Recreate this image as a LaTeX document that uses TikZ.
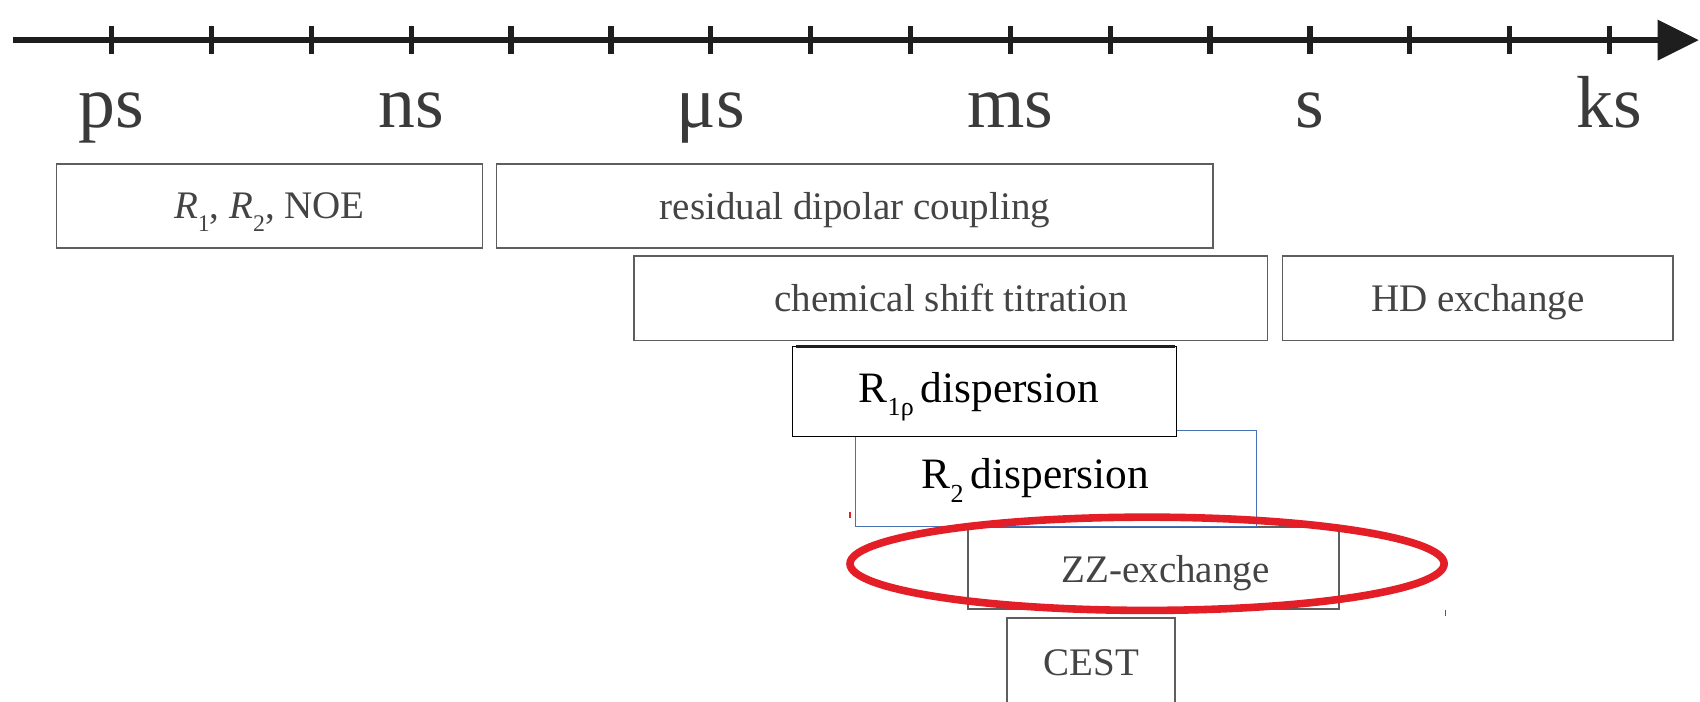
\documentclass[tikz,border=0pt]{standalone}
\usepackage{fontspec}
\setmainfont{Liberation Serif}
\usetikzlibrary{arrows.meta}

\definecolor{axisink}{HTML}{1E1E1E}
\definecolor{labelink}{HTML}{3A3A3A}
\definecolor{boxline}{HTML}{5E5E5E}
\definecolor{boxtext}{HTML}{444444}
\definecolor{blueline}{HTML}{4A70B5}
\definecolor{ringred}{HTML}{E31E26}

% lowered, smaller subscript for the relaxation symbols
\newcommand\lowsub[2]{\raisebox{-0.32em}{\fontsize{#1}{#1}\selectfont #2}}

\tikzset{
  axisline/.style={line width=3pt, draw=axisink,
    -{Triangle[length=19pt,width=18pt]}},
  tickmark/.style={line width=2.4pt, draw=axisink},
  scalelabel/.style={text=labelink, anchor=base,
    font=\fontsize{34}{40}\selectfont, inner sep=0pt},
  methodbox/.style={draw=boxline, line width=0.8pt, fill=white,
    text=boxtext, inner sep=0pt, text depth=0pt,
    font=\fontsize{18}{22}\selectfont},
  blackbox/.style={draw=black, line width=0.5pt, fill=white, inner sep=0pt},
  bluebox/.style={draw=blueline, line width=0.5pt, fill=white, inner sep=0pt},
  boxlabel/.style={inner sep=0pt, text depth=0pt},
  ring/.style={draw=ringred, line width=3.5pt},
  redmark/.style={draw=ringred, line width=0.5pt}
}

\begin{document}
\begin{tikzpicture}[x=0.5pt,y=-0.5pt]
  \clip (0,0) rectangle (1568,647);
  \fill[white] (0,0) rectangle (1568,647);

  % time axis
  \coordinate (axstart) at (12,37);
  \coordinate (axend) at (1567,37);
  \draw[axisline] (axstart) -- (axend);
  \foreach \k in {0,...,15}
    \draw[tickmark] ({103+92.1*\k},24) -- ({103+92.1*\k},50);

  % decade labels
  \node[scalelabel] (lps) at (103,118) {ps};
  \node[scalelabel] (lns) at ({103+92.1*3},118) {ns};
  \node[scalelabel] (lus) at ({103+92.1*6},118) {μs};
  \node[scalelabel] (lms) at ({103+92.1*9},118) {ms};
  \node[scalelabel] (lsec) at ({103+92.1*12},118) {s};
  \node[scalelabel] (lks) at ({103+92.1*15},118) {ks};

  % methods and their time windows
  \node[methodbox, minimum width=196.5pt, minimum height=39pt] (noe)
    at (248.5,190) {\textit{R}\lowsub{11}{1}, \textit{R}\lowsub{11}{2}, NOE};
  \node[methodbox, minimum width=330.5pt, minimum height=39pt] (rdc)
    at (788.5,190) {residual dipolar coupling};
  \node[methodbox, minimum width=292pt, minimum height=39pt] (csp)
    at (877,275) {chemical shift titration};
  \node[methodbox, minimum width=180pt, minimum height=39pt] (hdx)
    at (1363,275) {HD exchange};

  \node[methodbox, minimum width=171pt, minimum height=38pt] (zzbox)
    at (1064,524) {};
  \node[boxlabel, text=boxtext, font=\fontsize{18}{22}\selectfont] (zztext)
    at (1075,525) {ZZ-exchange};
  \node[methodbox, minimum width=77.5pt, minimum height=41pt] (cest)
    at (1006.5,611) {CEST};

  \node[bluebox, minimum width=185pt, minimum height=44.5pt] (r2box)
    at (974,441.5) {};
  \node[boxlabel, font=\fontsize{20}{24}\selectfont] (r2text)
    at (955,437) {R\lowsub{12}{2}\,dispersion};

  \node[blackbox, minimum width=177pt, minimum height=41.5pt] (r1rbox)
    at (908,361.5) {};
  \node[boxlabel, font=\fontsize{20}{24}\selectfont] (r1rtext)
    at (903,357) {R\lowsub{12}{1ρ}\,dispersion};
  \draw[line width=1.1pt, draw=axisink] (r1rbox.north west) ++(4,0) -- ([xshift=-1pt]r1rbox.north east);

  % highlight ring
  \draw[ring] (1058,520) ellipse [x radius=274, y radius=43];
  \draw[redmark] (784,472) -- (784,478);
  \draw[redmark] (1333,563) -- (1333,568);
\end{tikzpicture}
\end{document}
